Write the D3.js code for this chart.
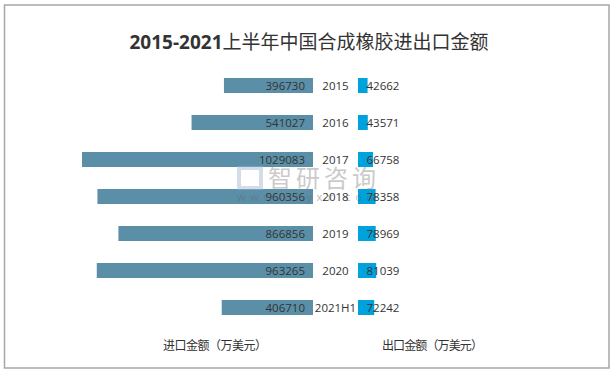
<!DOCTYPE html>
<html>
<head>
<meta charset="utf-8">
<script src="https://cdn.jsdelivr.net/npm/d3@7"></script>
<style>
  body { margin: 0; background: #fff; }
  text { font-family: "Open Sans", "Noto Sans CJK SC", sans-serif; }
</style>
</head>
<body>
<svg id="chart"></svg>
<script>
// data
const years = ["2015", "2016", "2017", "2018", "2019", "2020", "2021H1"]
const importValues = [396730, 541027, 1029083, 960356, 866856, 963265, 406710]
const exportValues = [42662, 43571, 66758, 78358, 78969, 81039, 72242]
const titleNum = "2015-2021"
const titleText = "上半年中国合成橡胶进出口金额"
const leftLabel = "进口金额（万美元）"
const rightLabel = "出口金额（万美元）"

const width = 615, height = 373
const leftBase = 313, rightBase = 358

const svg = d3.select("#chart").attr("width", width).attr("height", height)

// frame
svg.append("rect")
  .attr("x", 4.5).attr("y", 5).attr("width", 604.5).attr("height", 363)
  .attr("fill", "#fff").attr("stroke", "#a6a6a6").attr("stroke-width", 1.5)

// title
const title = svg.append("text")
  .attr("x", 309).attr("y", 49)
  .attr("text-anchor", "middle")
  .attr("fill", "#333")
  .style("font-size", "19px")
title.append("tspan").text(titleNum).style("font-weight", "bold")
title.append("tspan").text(titleText)
  .style("font-family", "'Noto Sans CJK SC', sans-serif")
  .style("font-weight", "normal")

// scales
let y = d3.scaleBand()
  .domain(years)
  .range([67, 326])
  .paddingInner(22 / 37)
  .paddingOuter(11 / 37)

let x = d3.scaleLinear()
  .domain([0, d3.max(importValues)])
  .range([0, 231])

const rows = years.map((yr, i) => ({ year: yr, imp: importValues[i], exp: exportValues[i] }))

const g = svg.append("g")

// import bars (left)
g.selectAll(".imp")
  .data(rows)
  .enter()
  .append("rect")
  .attr("class", "imp")
  .attr("x", d => leftBase - x(d.imp))
  .attr("y", d => y(d.year))
  .attr("width", d => x(d.imp))
  .attr("height", y.bandwidth())
  .attr("fill", "#5b8fa7")

// export bars (right)
g.selectAll(".exp")
  .data(rows)
  .enter()
  .append("rect")
  .attr("class", "exp")
  .attr("x", rightBase)
  .attr("y", d => y(d.year))
  .attr("width", d => x(d.exp))
  .attr("height", y.bandwidth())
  .attr("fill", "#00a2dd")

const mid = d => y(d.year) + y.bandwidth() / 2

// watermark
const wm = svg.append("g").attr("opacity", 0.45)
wm.append("text")
  .attr("x", 268).attr("y", 187)
  .attr("fill", "#8c8c8c")
  .style("font-family", "'Noto Sans CJK SC', sans-serif")
  .style("font-size", "24px")
  .attr("textLength", 108)
  .text("智研咨询")
wm.append("rect").attr("x", 239).attr("y", 168).attr("width", 22).attr("height", 20)
  .attr("fill", "none").attr("stroke", "#9fb3cf").attr("stroke-width", 4)
wm.append("text")
  .attr("x", 237).attr("y", 201)
  .attr("fill", "#666")
  .style("font-size", "11px")
  .attr("textLength", 140)
  .text("w w w . c h y x x . c o m")

// labels
g.selectAll(".impLabel")
  .data(rows)
  .enter()
  .append("text")
  .attr("x", 305)
  .attr("y", d => mid(d) + 4)
  .attr("text-anchor", "end")
  .attr("fill", "#333")
  .style("font-size", "11.5px")
  .text(d => d.imp)

g.selectAll(".yearLabel")
  .data(rows)
  .enter()
  .append("text")
  .attr("x", 335.5)
  .attr("y", d => mid(d) + 4)
  .attr("text-anchor", "middle")
  .attr("fill", "#333")
  .style("font-size", "11.5px")
  .text(d => d.year)

g.selectAll(".expLabel")
  .data(rows)
  .enter()
  .append("text")
  .attr("x", 366.5)
  .attr("y", d => mid(d) + 4)
  .attr("fill", "#333")
  .style("font-size", "11.5px")
  .text(d => d.exp)

// axis titles
svg.append("text")
  .attr("x", 163).attr("y", 349.5)
  .attr("fill", "#333")
  .style("font-family", "'Noto Sans CJK SC', sans-serif")
  .style("font-size", "12px")
  .attr("textLength", 104)
  .text(leftLabel)

svg.append("text")
  .attr("x", 382).attr("y", 349.5)
  .attr("fill", "#333")
  .style("font-family", "'Noto Sans CJK SC', sans-serif")
  .style("font-size", "12px")
  .attr("textLength", 101)
  .text(rightLabel)
</script>
</body>
</html>
